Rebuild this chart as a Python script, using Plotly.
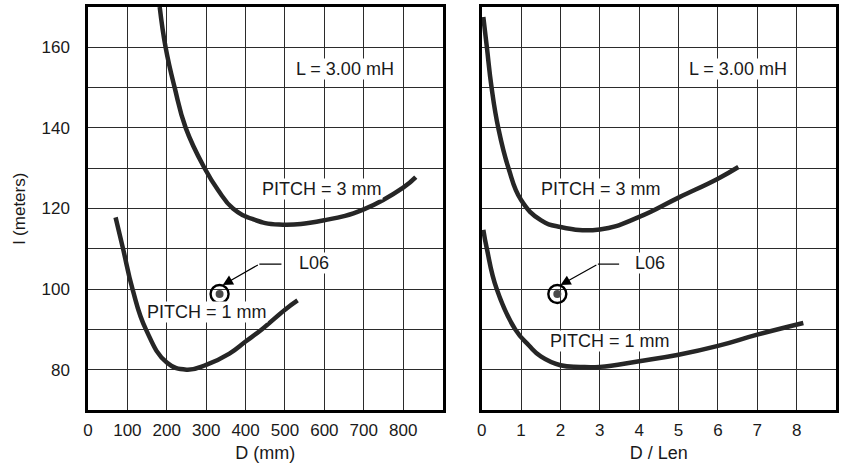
import plotly.graph_objects as go

# ---- data ----
d_mm_p3 = [182, 197, 220, 248, 296, 330, 368, 420, 485, 600, 700, 800, 832]
l_mm_p3 = [170, 160, 150, 140, 130, 124.6, 120, 117.3, 116.0, 117.1, 119.8, 125.2, 127.8]

d_mm_p1 = [70, 89, 113, 147, 200, 250, 300, 359, 400, 441, 500, 532]
l_mm_p1 = [117.8, 110, 100, 90, 81.8, 80.0, 81.2, 84.0, 87.0, 90.0, 94.9, 97.2]

d_len_p3 = [0.04, 0.13, 0.25, 0.42, 0.68, 1.0, 1.5, 2, 3, 4, 5, 6, 6.52]
l_len_p3 = [167.5, 160, 150, 140, 130, 122.1, 117.1, 115.4, 114.8, 117.9, 122.7, 127.4, 130.3]

d_len_p1 = [0.04, 0.13, 0.38, 0.85, 1.2, 1.5, 2, 2.5, 3, 4, 5, 6, 7, 8.17]
l_len_p1 = [114.7, 110, 100, 90, 86.0, 83.3, 81.1, 80.7, 80.7, 82.1, 83.7, 85.9, 88.7, 91.6]

l06_d_mm, l06_d_len, l06_l = 334, 1.92, 98.8

x1_tickvals = [0, 100, 200, 300, 400, 500, 600, 700, 800, 900]
x1_ticktext = ["0", "100", "200", "300", "400", "500", "600", "700", "800", ""]
x2_tickvals = [0, 1, 2, 3, 4, 5, 6, 7, 8, 9]
x2_ticktext = ["0", "1", "2", "3", "4", "5", "6", "7", "8", ""]
y_tickvals = [70, 80, 90, 100, 110, 120, 130, 140, 150, 160, 170]
y_ticktext = ["", "80", "", "100", "", "120", "", "140", "", "160", ""]

FONT = "Liberation Sans, Arial, sans-serif"
TXT = "#1a1a1a"
CURVE = dict(color="#262626", width=4.5, shape="spline", smoothing=1.3)

fig = go.Figure()
for xs, ys, xa in [(d_mm_p3, l_mm_p3, "x"), (d_mm_p1, l_mm_p1, "x"),
                   (d_len_p3, l_len_p3, "x2"), (d_len_p1, l_len_p1, "x2")]:
    fig.add_trace(go.Scatter(x=xs, y=ys, mode="lines", line=CURVE,
                             xaxis=xa, yaxis="y" if xa == "x" else "y2",
                             showlegend=False, hoverinfo="skip"))

for xv, xa, ya in [(l06_d_mm, "x", "y"), (l06_d_len, "x2", "y2")]:
    fig.add_trace(go.Scatter(x=[xv], y=[l06_l], mode="markers",
                             marker=dict(symbol="circle", size=8, color="#4a4a4a"),
                             xaxis=xa, yaxis=ya, showlegend=False))
    fig.add_trace(go.Scatter(x=[xv], y=[l06_l], mode="markers",
                             marker=dict(symbol="circle-open", size=18, color="black",
                                         line=dict(width=2.4, color="black")),
                             xaxis=xa, yaxis=ya, showlegend=False))

axis_common = dict(showgrid=True, gridcolor="#2b2b2b", gridwidth=1,
                   showline=True, linecolor="black", linewidth=2.5, mirror=True,
                   zeroline=False, ticks="",
                   tickfont=dict(family=FONT, size=17, color=TXT))

fig.update_layout(
    width=841, height=468,
    margin=dict(l=88, r=2, t=7, b=58),
    paper_bgcolor="white", plot_bgcolor="white",
    font=dict(family=FONT, size=17, color=TXT),
    xaxis=dict(domain=[0, 0.474], range=[0, 900], tickmode="array",
               tickvals=x1_tickvals, ticktext=x1_ticktext, anchor="y",
               ticklabelstandoff=3,
               title=dict(text="D (mm)", standoff=8,
                          font=dict(family=FONT, size=18, color=TXT)),
               **axis_common),
    xaxis2=dict(domain=[0.5264, 1.0], range=[0, 9], tickmode="array",
                tickvals=x2_tickvals, ticktext=x2_ticktext, anchor="y2",
                ticklabelstandoff=3,
                title=dict(text="D / Len", standoff=8,
                           font=dict(family=FONT, size=18, color=TXT)),
                **axis_common),
    yaxis=dict(domain=[0, 1], range=[70, 170], tickmode="array",
               tickvals=y_tickvals, ticktext=y_ticktext, anchor="x",
               ticklabelstandoff=12,
               title=dict(text="l (meters)", standoff=12,
                          font=dict(family=FONT, size=17, color=TXT)),
               **axis_common),
    yaxis2=dict(domain=[0, 1], range=[70, 170], tickmode="array",
                tickvals=y_tickvals, ticktext=[""] * len(y_tickvals),
                anchor="x2", showticklabels=False, **axis_common),
)

labels = [
    ("x", "y", 653, 154.5, "L = 3.00 mH"),
    ("x", "y", 594, 124.8, "PITCH = 3 mm"),
    ("x", "y", 302.5, 94.2, "PITCH = 1 mm"),
    ("x2", "y2", 6.5, 154.5, "L = 3.00 mH"),
    ("x2", "y2", 3.02, 124.8, "PITCH = 3 mm"),
    ("x2", "y2", 3.26, 87.0, "PITCH = 1 mm"),
    ("x", "y", 532, 106.4, "L06"),
    ("x2", "y2", 3.88, 106.4, "L06"),
]
for xr, yr, x, y, t in labels:
    fig.add_annotation(x=x, y=y, xref=xr, yref=yr, text=t, showarrow=False,
                       xanchor="left" if t == "L06" else "center",
                       bgcolor="white", borderpad=0,
                       font=dict(family=FONT, size=18, color=TXT))

# L06 leader lines: horizontal segment + arrow to the point
for xr, yr, x_end, x_bend, x_tip in [("x", "y", 491, 435, 342),
                                     ("x2", "y2", 3.49, 2.95, 2.0)]:
    fig.add_shape(type="line", xref=xr, yref=yr, x0=x_bend, x1=x_end,
                  y0=106.2, y1=106.2, line=dict(color="black", width=1.2))
    fig.add_annotation(x=x_tip, y=101.0, xref=xr, yref=yr, ax=x_bend, ay=106.2,
                       axref=xr, ayref=yr, text="", showarrow=True,
                       arrowhead=2, arrowsize=1.7, arrowwidth=1.2,
                       arrowcolor="black")

fig.write_html("out.html",
               config={"displayModeBar": False},
               post_script="document.body.style.margin='0px';"
                           "document.body.style.overflow='hidden';")
